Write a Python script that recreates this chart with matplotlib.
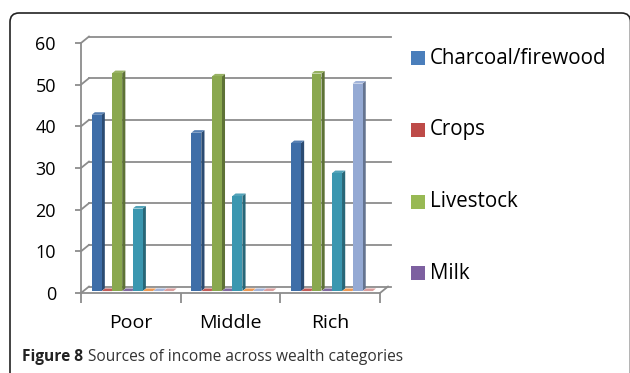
import matplotlib
matplotlib.use('Agg')
import matplotlib.pyplot as plt
from matplotlib.patches import Polygon, Rectangle, FancyBboxPatch
from matplotlib.transforms import IdentityTransform
import numpy as np

plt.rcParams['font.family'] = ['Open Sans', 'DejaVu Sans']

categories = ['Poor', 'Middle', 'Rich']
# income share per source, for Poor / Middle / Rich
charcoal = [42.3, 38.0, 35.5]
crops = [0.0, 0.0, 0.0]
livestock = [52.3, 51.5, 52.2]
milk = [0.0, 0.0, 0.0]
series5 = [19.8, 22.8, 28.3]
series6 = [0.0, 0.0, 0.0]
series7 = [0.0, 0.0, 49.8]
series8 = [0.0, 0.0, 0.0]
series = [charcoal, crops, livestock, milk, series5, series6, series7, series8]
legend_labels = ['Charcoal/firewood', 'Crops', 'Livestock', 'Milk']

face_colors = ['#3F6EA8', '#B8433F', '#8AA84F', '#6F5592',
               '#3B97B0', '#EB8A3C', '#95AAD4', '#D5908E']
legend_colors = ['#4A7EBB', '#BE4B48', '#98B954', '#7D60A0']

GRID = '#8C8C8C'
DX, DY = 0.08, 1.55       # full depth of the 3D box, in data units
D0, D1 = 0.3, 0.7         # front / back of the bars inside that depth


def shade(c, f):
    rgb = np.array(matplotlib.colors.to_rgb(c))
    if f < 1:
        rgb = rgb * f
    else:
        rgb = rgb + (1 - rgb) * (f - 1)
    return tuple(np.clip(rgb, 0, 1))


fig = plt.figure(figsize=(6.3, 3.73), dpi=100)
ax = fig.add_axes([81 / 630, 80 / 373, 299 / 630, 250 / 373])
ax.set_xlim(0, 3)
ax.set_ylim(0, 60)
for s in ['top', 'right']:
    ax.spines[s].set_visible(False)
for s in ['left', 'bottom']:
    ax.spines[s].set_color(GRID)
    ax.spines[s].set_linewidth(1.3)

ax.set_yticks(range(0, 61, 10))
ax.tick_params(axis='y', length=4, width=1.3, color=GRID, pad=14,
               labelsize=13, labelcolor='black')
ax.set_xticks([0, 1, 2, 3])
ax.set_xticklabels([])
ax.set_xticks([0.5, 1.5, 2.5], minor=True)
ax.set_xticklabels(categories, minor=True)
ax.tick_params(axis='x', which='major', length=7, width=1.3, color=GRID)
ax.tick_params(axis='x', which='minor', length=0, pad=15, labelsize=14)

# back wall gridlines with the short diagonal to the front axis
for v in range(0, 61, 10):
    ax.plot([0, DX], [v, v + DY], color=GRID, lw=1.3, clip_on=False)
    ax.plot([DX, 3 + DX + 0.03], [v + DY, v + DY], color=GRID, lw=1.3,
            clip_on=False)
# floor right edge
ax.plot([3, 3 + DX], [0, DY], color=GRID, lw=1.3, clip_on=False)

z = 3
for i in range(len(categories)):
    for j, vals in enumerate(series):
        v = vals[i]
        x = i + 0.083 + j * 0.103
        w = 0.1
        c = face_colors[j]
        x0, y0 = x + D0 * DX, D0 * DY
        x1, y1 = x + D1 * DX, D1 * DY
        side = Polygon([(x0 + w, y0), (x1 + w, y1), (x1 + w, v + y1), (x0 + w, v + y0)],
                       closed=True, fc=shade(c, 0.68), ec='none', zorder=z, clip_on=False)
        top = Polygon([(x0, v + y0), (x0 + w, v + y0), (x1 + w, v + y1), (x1, v + y1)],
                      closed=True, fc=shade(c, 1.12), ec='none', zorder=z, clip_on=False)
        ax.add_patch(side)
        ax.add_patch(top)
        if v > 0:
            ax.bar(x0, v, width=w, bottom=y0, align='edge', color=c,
                   zorder=z, clip_on=False)
        z += 1

# legend
for k, (lab, col) in enumerate(zip(legend_labels, legend_colors)):
    yc = 373 - (58 + k * 71.8)
    fig.patches.append(Rectangle((411, yc - 7), 14, 14, fc=col, ec='none',
                                 transform=IdentityTransform()))
    fig.text(430 / 630, yc / 373, lab, fontsize=14.8, va='center', ha='left')

# frame around the figure
fig.patches.append(FancyBboxPatch((10, -10), 620.5, 370,
                                  boxstyle='round,pad=0,rounding_size=9',
                                  fc='none', ec='#222222', lw=1.2,
                                  transform=IdentityTransform()))

# caption
renderer = fig.canvas.get_renderer()
t1 = fig.text(22 / 630, 12 / 373, 'Figure 8', fontsize=11.2, fontweight='bold',
              va='baseline', ha='left', color='#222222')
bb = t1.get_window_extent(renderer)
fig.text((bb.x1 + 5) / 630, 12 / 373, 'Sources of income across wealth categories',
         fontsize=11.2, va='baseline', ha='left', color='#333333')

fig.savefig('out.png', dpi=100)
